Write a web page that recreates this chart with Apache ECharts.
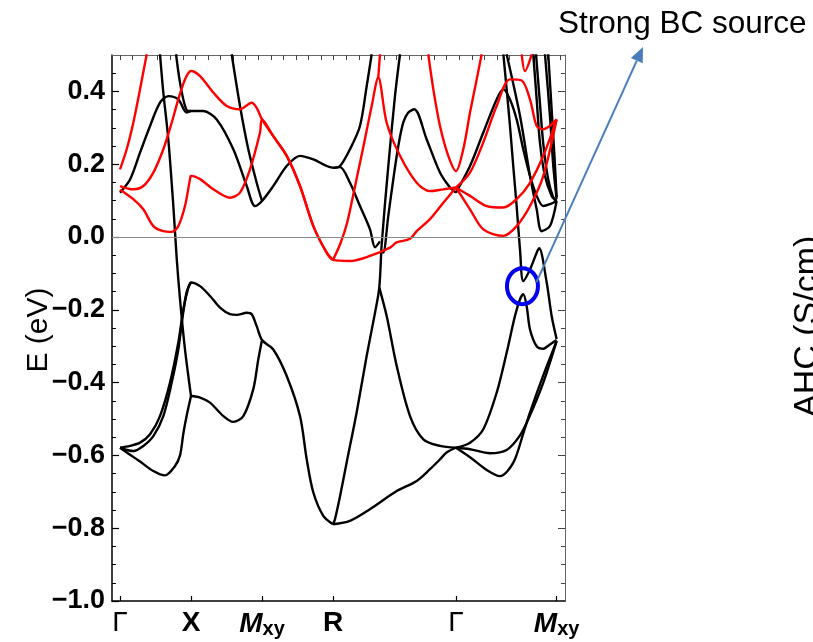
<!DOCTYPE html>
<html>
<head>
<meta charset="utf-8">
<script src="https://cdn.jsdelivr.net/npm/echarts@6.0.0/dist/echarts.min.js"></script>
<style>
  html, body { margin: 0; padding: 0; background: #fff; }
  #chart { width: 813px; height: 642px; }
</style>
</head>
<body>
<div id="chart"></div>
<script>
// high-symmetry points along the path (units of the G-X distance)
const kPoints = [0, 1, 2, 3, 4.732, 6.150];
const kNames = ['G', 'X', 'M', 'R', 'G', 'M'];
const yMajorTicks = [-1.0, -0.8, -0.6, -0.4, -0.2, 0.0, 0.2, 0.4];
const yMinorTicks = [-1.0, -0.95, -0.9, -0.85, -0.8, -0.75, -0.7, -0.65, -0.6, -0.55, -0.5, -0.45,
  -0.4, -0.35, -0.3, -0.25, -0.2, -0.15, -0.1, -0.05, 0, 0.05, 0.1, 0.15, 0.2, 0.25, 0.3, 0.35, 0.4, 0.45];
const topTickStep = 0.177;
const topTickCount = 36;

// black bands [k, E(eV)]
const valA = [[0, -0.579], [0.141, -0.574], [0.282, -0.565], [0.423, -0.542], [0.563, -0.492], [0.704, -0.400],
  [0.821, -0.290], [0.892, -0.199], [0.962, -0.139], [1.0, -0.125], [1.127, -0.135], [1.268, -0.162], [1.408, -0.194],
  [1.549, -0.212], [1.644, -0.214], [1.785, -0.208], [1.855, -0.212], [1.925, -0.245], [2.0, -0.283], [2.159, -0.309],
  [2.348, -0.382], [2.535, -0.492], [2.630, -0.611], [2.723, -0.702], [2.863, -0.766], [3.0, -0.789]];
const valA2 = [[0, -0.579], [0.187, -0.588], [0.328, -0.574], [0.469, -0.547], [0.610, -0.492], [0.728, -0.400],
  [0.821, -0.309], [0.883, -0.217], [0.94, -0.150], [1.0, -0.125]];
const valB = [[1.0, -0.437], [1.127, -0.441], [1.268, -0.455], [1.455, -0.492], [1.596, -0.508], [1.737, -0.492],
  [1.877, -0.418], [1.948, -0.336], [2.0, -0.283]];
const valC = [[0, -0.579], [0.141, -0.598], [0.282, -0.617], [0.469, -0.643], [0.634, -0.655], [0.775, -0.629],
  [0.845, -0.600], [0.892, -0.540], [0.94, -0.490], [1.0, -0.437]];
const steepX = [[0.563, 0.502], [0.610, 0.397], [0.680, 0.269], [0.751, 0.085], [0.799, -0.060], [0.845, -0.171],
  [0.915, -0.309], [1.0, -0.437]];
const humpGXM = [[0, 0.122], [0.141, 0.158], [0.282, 0.232], [0.423, 0.305], [0.563, 0.369], [0.680, 0.387],
  [0.821, 0.378], [0.939, 0.342], [1.0, 0.346], [1.173, 0.346], [1.362, 0.323], [1.596, 0.241], [1.785, 0.140],
  [1.901, 0.085], [2.0, 0.099], [2.159, 0.140], [2.348, 0.195], [2.535, 0.223], [2.723, 0.213], [2.911, 0.195], [3.0, 0.190]];
const topX = [[0.789, 0.502], [0.845, 0.424], [0.915, 0.360], [0.962, 0.346], [1.0, 0.346]];
const topM = [[1.573, 0.502], [1.690, 0.360], [1.807, 0.241], [1.925, 0.149], [2.0, 0.099]];
const rUp = [[3.0, 0.190], [3.099, 0.195], [3.239, 0.241], [3.380, 0.305], [3.475, 0.415], [3.545, 0.502]];
const rDown = [[3.0, 0.190], [3.099, 0.192], [3.239, 0.149], [3.380, 0.085], [3.521, 0.021], [3.592, -0.028], [3.662, -0.012]];
const rSteep = [[3.0, -0.789], [3.028, -0.775], [3.099, -0.712], [3.192, -0.620], [3.333, -0.482], [3.474, -0.327],
  [3.592, -0.208], [3.652, -0.139], [3.686, -0.020], [3.779, 0.195], [3.873, 0.387], [3.944, 0.502]];
const rPeak = [[3.652, -0.139], [3.756, -0.217], [3.897, -0.354], [4.085, -0.492], [4.273, -0.556], [4.507, -0.574], [4.732, -0.579]];
const rGentle = [[3.0, -0.789], [3.239, -0.780], [3.521, -0.748], [3.897, -0.698], [4.179, -0.670], [4.366, -0.638],
  [4.507, -0.611], [4.600, -0.592], [4.732, -0.579]];
const rHill = [[3.686, -0.040], [3.708, -0.043], [3.779, 0.058], [3.849, 0.158], [3.920, 0.250], [3.990, 0.315],
  [4.061, 0.342], [4.145, 0.351], [4.320, 0.268], [4.507, 0.177], [4.648, 0.136], [4.732, 0.122]];
const gmFlat = [[4.732, -0.579], [4.930, -0.583], [5.211, -0.594], [5.446, -0.585], [5.634, -0.545], [5.775, -0.490],
  [5.962, -0.400], [6.150, -0.286]];
const gmDip = [[4.732, -0.579], [4.930, -0.605], [5.165, -0.640], [5.352, -0.657], [5.540, -0.620], [5.680, -0.540],
  [5.775, -0.482], [5.962, -0.380], [6.150, -0.286]];
const gmLower = [[4.732, -0.579], [4.930, -0.565], [5.117, -0.528], [5.305, -0.428], [5.446, -0.318], [5.563, -0.217],
  [5.634, -0.171], [5.680, -0.157], [5.728, -0.190], [5.775, -0.254], [5.869, -0.300], [5.962, -0.307], [6.056, -0.295], [6.150, -0.283]];
const gmUpper = [[5.400, 0.502], [5.446, 0.406], [5.493, 0.305], [5.539, 0.195], [5.587, 0.085], [5.634, -0.034],
  [5.680, -0.121], [5.775, -0.089], [5.869, -0.043], [5.905, -0.031], [6.010, -0.125], [6.080, -0.217], [6.150, -0.280]];
const gmPeak = [[4.732, 0.122], [4.930, 0.195], [5.117, 0.287], [5.305, 0.378], [5.399, 0.406], [5.493, 0.378],
  [5.587, 0.323], [5.680, 0.241], [5.775, 0.168], [5.869, 0.113], [5.962, 0.085], [6.056, 0.090], [6.150, 0.099]];
const gmTop1 = [[5.446, 0.502], [5.634, 0.333], [5.775, 0.168], [5.869, 0.076], [5.939, 0.016], [6.056, 0.030], [6.150, 0.099]];
const gmTop2 = [[5.821, 0.502], [5.869, 0.378], [5.915, 0.259], [5.985, 0.168], [6.080, 0.113], [6.150, 0.099]];
const gmTop3 = [[5.860, 0.502], [5.910, 0.380], [5.960, 0.260], [6.030, 0.160], [6.100, 0.110], [6.150, 0.099]];
const gmTop4 = [[5.986, 0.502], [6.056, 0.333], [6.103, 0.195], [6.150, 0.105]];
const gmTop5 = [[6.032, 0.502], [6.080, 0.350], [6.120, 0.220], [6.150, 0.110]];

// red bands [k, E(eV)]
const redSteep = [[0, 0.186], [0.094, 0.241], [0.187, 0.314], [0.282, 0.406], [0.376, 0.502]];
const redUpper = [[0, 0.140], [0.187, 0.131], [0.328, 0.140], [0.469, 0.177], [0.610, 0.241], [0.728, 0.314],
  [0.821, 0.378], [0.915, 0.433], [1.0, 0.456], [1.127, 0.442], [1.314, 0.397], [1.503, 0.360], [1.690, 0.351],
  [1.855, 0.369], [1.925, 0.355], [2.0, 0.323], [2.159, 0.277], [2.348, 0.223], [2.535, 0.140], [2.723, 0.030],
  [2.911, -0.043], [3.0, -0.063], [3.239, -0.066], [3.521, -0.052], [3.803, -0.029], [3.897, -0.015], [4.085, -0.005],
  [4.179, 0.016], [4.366, 0.049], [4.554, 0.094], [4.732, 0.136]];
const redLower = [[0, 0.130], [0.187, 0.104], [0.328, 0.076], [0.469, 0.030], [0.610, 0.016], [0.728, 0.014],
  [0.821, 0.030], [0.915, 0.085], [0.986, 0.159], [1.0, 0.168], [1.127, 0.159], [1.314, 0.131], [1.549, 0.108],
  [1.690, 0.122], [1.831, 0.186], [1.972, 0.287], [2.0, 0.323], [2.159, 0.277], [2.348, 0.223], [2.535, 0.140],
  [2.723, 0.030], [2.911, -0.043], [3.0, -0.063]];
const redR = [[3.0, -0.063], [3.100, -0.020], [3.200, 0.040], [3.300, 0.130], [3.430, 0.250], [3.545, 0.360],
  [3.638, 0.438], [3.756, 0.314], [3.944, 0.223], [4.179, 0.149], [4.366, 0.126], [4.554, 0.131], [4.732, 0.136]];
const redRTop = [[3.638, 0.438], [3.662, 0.502]];
const redV = [[4.342, 0.502], [4.413, 0.406], [4.507, 0.305], [4.624, 0.223], [4.732, 0.181], [4.835, 0.241],
  [4.930, 0.342], [5.024, 0.433], [5.094, 0.502]];
const redGM1 = [[4.732, 0.136], [4.930, 0.177], [5.117, 0.260], [5.305, 0.360], [5.493, 0.433], [5.658, 0.430],
  [5.775, 0.378], [5.869, 0.305], [5.962, 0.296], [6.150, 0.323]];
const redGM2 = [[4.732, 0.136], [4.930, 0.113], [5.165, 0.085], [5.399, 0.081], [5.587, 0.104], [5.775, 0.149],
  [5.962, 0.223], [6.150, 0.323]];
const redGM3 = [[4.732, 0.136], [4.930, 0.076], [5.117, 0.021], [5.399, 0.003], [5.587, 0.030], [5.775, 0.085],
  [5.962, 0.168], [6.150, 0.323]];
const redGMTop = [[5.658, 0.502], [5.704, 0.456], [5.799, 0.502]];

const blackBands = [valA, valA2, valB, valC, steepX, humpGXM, topX, topM, rUp, rDown, rSteep, rPeak, rGentle, rHill,
  gmFlat, gmDip, gmLower, gmUpper, gmPeak, gmTop1, gmTop2, gmTop3, gmTop4, gmTop5];
const redBands = [redSteep, redUpper, redLower, redR, redRTop, redV, redGM1, redGM2, redGM3, redGMTop];

const bcSource = [5.669, -0.135];

const topTicks = [];
for (let i = 0; i < topTickCount; i++) topTicks.push(+(i * topTickStep).toFixed(4));

const chart = echarts.init(document.getElementById('chart'));

const makeSeries = (data, color) => ({
  type: 'line',
  data: data,
  showSymbol: false,
  smooth: 0.3,
  smoothMonotone: 'none',
  clip: true,
  silent: true,
  animation: false,
  lineStyle: { color: color, width: 2.4 },
  z: color === '#ff0000' ? 3 : 2
});

const series = [];
series.push({
  type: 'line', data: [], silent: true, animation: false,
  markLine: {
    silent: true, symbol: 'none', animation: false,
    label: { show: false },
    lineStyle: { color: '#8c8c8c', width: 1, type: 'solid' },
    data: [{ yAxis: 0 }]
  }
});
blackBands.forEach(b => series.push(makeSeries(b, '#000000')));
redBands.forEach(b => series.push(makeSeries(b, '#ff0000')));

const labelFont = 'Liberation Sans, Arial, sans-serif';

const option = {
  animation: false,
  backgroundColor: '#ffffff',
  grid: { left: 112, right: 248, top: 55, bottom: 41 },
  xAxis: [
    {
      type: 'value', min: -0.113, max: 6.268, position: 'bottom',
      axisLine: { onZero: false, lineStyle: { color: '#000', width: 1.5 } },
      axisTick: { customValues: kPoints, inside: true, length: 5, lineStyle: { color: '#000', width: 1.2 } },
      axisLabel: {
        customValues: kPoints, margin: 8,
        formatter: (v) => {
          let i = 0;
          kPoints.forEach((p, j) => { if (Math.abs(p - v) < 1e-6) i = j; });
          const n = kNames[i];
          if (n === 'G') return '{g|Γ}';
          if (n === 'M') return '{m|M}{s|xy}';
          return '{b|' + n + '}';
        },
        rich: {
          g: { fontFamily: labelFont, fontSize: 28, color: '#000' },
          b: { fontFamily: labelFont, fontSize: 28, fontWeight: 'bold', color: '#000' },
          m: { fontFamily: labelFont, fontSize: 28, fontWeight: 'bold', fontStyle: 'italic', color: '#000' },
          s: { fontFamily: labelFont, fontSize: 20, fontWeight: 'bold', color: '#000', verticalAlign: 'bottom', padding: [10, 0, 0, 0] }
        }
      },
      splitLine: { show: false }
    },
    {
      type: 'value', min: -0.113, max: 6.268, position: 'top',
      axisLine: { onZero: false, lineStyle: { color: '#666', width: 1 } },
      axisTick: { customValues: topTicks, inside: true, length: 5, lineStyle: { color: '#444', width: 1 } },
      axisLabel: { show: false },
      splitLine: { show: false }
    }
  ],
  yAxis: [
    {
      type: 'value', min: -1.0, max: 0.5, position: 'left',
      axisLine: { onZero: false, lineStyle: { color: '#000', width: 1.5 } },
      axisTick: { customValues: yMajorTicks, inside: true, length: 7, lineStyle: { color: '#000', width: 1.2 } },
      axisLabel: {
        customValues: yMajorTicks, margin: 7,
        fontFamily: labelFont, fontSize: 27, fontWeight: 'bold', color: '#000',
        formatter: (v) => (v < -1e-9 ? '\u2212' : '') + Math.abs(v).toFixed(1)
      },
      splitLine: { show: false }
    },
    {
      type: 'value', min: -1.0, max: 0.5, position: 'left',
      axisLine: { show: false, onZero: false },
      axisTick: { customValues: yMinorTicks, inside: true, length: 4, lineStyle: { color: '#000', width: 1 } },
      axisLabel: { show: false },
      splitLine: { show: false }
    },
    {
      type: 'value', min: -1.0, max: 0.5, position: 'right',
      axisLine: { show: true, onZero: false, lineStyle: { color: '#666', width: 1 } },
      axisTick: { customValues: yMajorTicks, inside: true, length: 7, lineStyle: { color: '#444', width: 1 } },
      axisLabel: { show: false },
      splitLine: { show: false }
    },
    {
      type: 'value', min: -1.0, max: 0.5, position: 'right',
      axisLine: { show: false, onZero: false },
      axisTick: { customValues: yMinorTicks, inside: true, length: 4, lineStyle: { color: '#444', width: 1 } },
      axisLabel: { show: false },
      splitLine: { show: false }
    }
  ],
  series: series
};

chart.setOption(option);

// annotation: circle around the gap, arrow and caption
const c = chart.convertToPixel({ xAxisIndex: 0, yAxisIndex: 0 }, bcSource);
const start = [c[0] + 14, c[1] - 4];
const tip = [643, 47];
const dx = tip[0] - start[0], dy = tip[1] - start[1];
const len = Math.sqrt(dx * dx + dy * dy);
const ux = dx / len, uy = dy / len;
const headLen = 15, headHalf = 6.5;
const bx = tip[0] - ux * headLen, by = tip[1] - uy * headLen;

chart.setOption({
  graphic: [
    {
      type: 'text', x: 39, y: 330, rotation: Math.PI / 2,
      style: { text: 'E (eV)', fontFamily: labelFont, fontSize: 30, fill: '#000', align: 'center', verticalAlign: 'middle' }, z: 100
    },
    {
      type: 'ellipse', shape: { cx: c[0], cy: c[1], rx: 15.5, ry: 18 },
      style: { fill: 'none', stroke: '#0000ee', lineWidth: 4 }, z: 100
    },
    {
      type: 'line', shape: { x1: start[0], y1: start[1], x2: bx, y2: by },
      style: { stroke: '#4a7ebb', lineWidth: 2 }, z: 100
    },
    {
      type: 'polygon',
      shape: { points: [tip, [bx - uy * headHalf, by + ux * headHalf], [bx + uy * headHalf, by - ux * headHalf]] },
      style: { fill: '#4a7ebb' }, z: 100
    },
    {
      type: 'text', left: 558, top: 8,
      style: { text: 'Strong BC source', fontFamily: labelFont, fontSize: 31.5, fill: '#000' }, z: 100
    },
    {
      type: 'text', x: 791, y: 417, rotation: Math.PI / 2,
      style: { text: 'AHC (S/cm)', fontFamily: labelFont, fontSize: 34, fill: '#000', textVerticalAlign: 'top' }, z: 100
    }
  ]
});
</script>
</body>
</html>
